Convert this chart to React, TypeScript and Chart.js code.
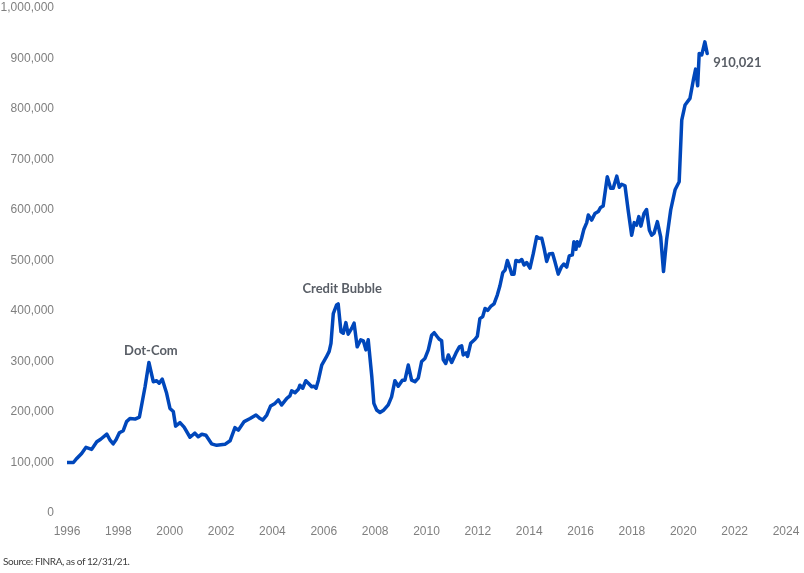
import React, { useEffect, useRef } from "react";
import { Chart, registerables } from "chart.js";

Chart.register(...registerables);

// Margin debt (debit balances in customers' securities margin accounts), USD millions
const periods: number[] = [
  1996.01, 1996.25, 1996.38, 1996.57, 1996.74, 1996.96, 1997.16, 1997.31, 1997.55, 1997.67,
  1997.8, 1997.91, 1998.04, 1998.19, 1998.32, 1998.45, 1998.65, 1998.82, 1999.04, 1999.19,
  1999.36, 1999.49, 1999.59, 1999.71, 1999.88, 2000.01, 2000.14, 2000.23, 2000.4, 2000.56,
  2000.79, 2000.98, 2001.11, 2001.25, 2001.41, 2001.63, 2001.83, 2002.15, 2002.35, 2002.54,
  2002.67, 2002.9, 2003.13, 2003.36, 2003.52, 2003.62, 2003.78, 2003.93, 2004.1, 2004.23,
  2004.36, 2004.56, 2004.68, 2004.75, 2004.88, 2005.01, 2005.07, 2005.18, 2005.3, 2005.4,
  2005.53, 2005.62, 2005.7, 2005.79, 2005.92, 2006.09, 2006.21, 2006.28, 2006.37, 2006.5,
  2006.56, 2006.67, 2006.76, 2006.86, 2006.95, 2007.09, 2007.18, 2007.3, 2007.44, 2007.54,
  2007.64, 2007.73, 2007.87, 2007.95, 2008.06, 2008.19, 2008.34, 2008.51, 2008.64, 2008.77,
  2008.9, 2009.06, 2009.16, 2009.29, 2009.42, 2009.55, 2009.68, 2009.81, 2009.94, 2010.07,
  2010.2, 2010.3, 2010.42, 2010.5, 2010.59, 2010.65, 2010.75, 2010.85, 2010.98, 2011.15,
  2011.28, 2011.37, 2011.43, 2011.54, 2011.6, 2011.72, 2011.89, 2011.98, 2012.08, 2012.19,
  2012.28, 2012.38, 2012.5, 2012.63, 2012.76, 2012.86, 2012.97, 2013.06, 2013.15, 2013.25,
  2013.32, 2013.41, 2013.48, 2013.61, 2013.71, 2013.8, 2013.9, 2014.03, 2014.16, 2014.29,
  2014.38, 2014.49, 2014.58, 2014.68, 2014.78, 2014.91, 2015.0, 2015.13, 2015.26, 2015.35,
  2015.46, 2015.56, 2015.68, 2015.74, 2015.82, 2015.87, 2015.95, 2016.04, 2016.13, 2016.24,
  2016.3, 2016.43, 2016.56, 2016.69, 2016.78, 2016.88, 2017.04, 2017.17, 2017.27, 2017.41,
  2017.51, 2017.6, 2017.73, 2017.86, 2017.99, 2018.09, 2018.18, 2018.27, 2018.35, 2018.47,
  2018.57, 2018.68, 2018.77, 2018.86, 2018.99, 2019.12, 2019.23, 2019.35, 2019.51, 2019.68,
  2019.84, 2019.94, 2020.07, 2020.26, 2020.39, 2020.48, 2020.56, 2020.62, 2020.72, 2020.84,
  2020.93,
];

const marginDebt: number[] = [
  100000, 100000, 108000, 118000, 130000, 126000, 141000, 146000, 156000, 145000,
  137000, 145000, 159000, 163000, 181000, 187000, 186000, 190000, 250000, 298000,
  260000, 262000, 257000, 265000, 237000, 207000, 201000, 172000, 179000, 170000,
  150000, 158000, 151000, 156000, 154000, 137000, 134000, 136000, 143000, 169000,
  164000, 181000, 187000, 194000, 187000, 184000, 194000, 212000, 217000, 224000,
  214000, 227000, 232000, 242000, 238000, 245000, 253000, 247000, 262000, 257000,
  250000, 251000, 247000, 263000, 293000, 308000, 320000, 336000, 395000, 412000,
  414000, 359000, 356000, 377000, 354000, 366000, 376000, 329000, 343000, 341000,
  323000, 343000, 270000, 217000, 204000, 199000, 204000, 214000, 230000, 262000,
  251000, 263000, 263000, 293000, 263000, 260000, 267000, 300000, 306000, 323000,
  352000, 357000, 349000, 344000, 341000, 304000, 296000, 313000, 298000, 317000,
  329000, 331000, 313000, 317000, 310000, 336000, 344000, 350000, 385000, 389000,
  405000, 401000, 409000, 414000, 432000, 450000, 476000, 481000, 500000, 485000,
  473000, 473000, 500000, 498000, 502000, 491000, 496000, 485000, 514000, 547000,
  544000, 544000, 524000, 498000, 513000, 514000, 498000, 473000, 488000, 493000,
  487000, 509000, 511000, 537000, 522000, 537000, 529000, 544000, 562000, 575000,
  590000, 580000, 593000, 597000, 605000, 608000, 666000, 643000, 643000, 667000,
  645000, 651000, 648000, 597000, 550000, 575000, 570000, 587000, 568000, 593000,
  601000, 560000, 550000, 554000, 577000, 547000, 478000, 541000, 600000, 640000,
  656000, 778000, 808000, 821000, 857000, 879000, 846000, 910000, 907000, 933000,
  910021,
];

const yTicks = { min: 0, max: 1000000, step: 100000 };
const xTicks = { min: 1996, max: 2024, step: 2 };

// Callouts anchored to a point of the series: [point index, text, dx, dy, align]
const callouts: Array<[number, string, number, number, CanvasTextAlign]> = [
  [19, "Dot-Com", 2, -12, "center"],
  [70, "Credit Bubble", 4, -15, "center"],
  [marginDebt.length - 1, marginDebt[marginDebt.length - 1].toLocaleString("en-US"), 6, 9, "left"],
];

const sourceNote = "Source: FINRA, as of 12/31/21.";

const calloutPlugin = {
  id: "callouts",
  afterDatasetsDraw(chart: any) {
    const { ctx, scales } = chart;
    ctx.save();
    ctx.font = "bold 13px Lato, 'Open Sans', sans-serif";
    ctx.fillStyle = "#595e66";
    ctx.textBaseline = "middle";
    for (const [i, text, dx, dy, align] of callouts) {
      const px = scales.x.getPixelForValue(periods[i]);
      const py = scales.y.getPixelForValue(marginDebt[i]);
      ctx.textAlign = align;
      ctx.fillText(text, px + dx, py + dy);
    }
    ctx.restore();
  },
};

export default function App() {
  const canvasRef = useRef<HTMLCanvasElement | null>(null);

  useEffect(() => {
    if (!canvasRef.current) return;
    const points = periods.map((p, i) => ({ x: p, y: marginDebt[i] }));
    const chart = new Chart(canvasRef.current, {
      type: "line",
      data: {
        datasets: [
          {
            label: "Margin debt",
            data: points,
            borderColor: "#0047bb",
            borderWidth: 3.5,
            pointRadius: 0,
            tension: 0,
            fill: false,
            borderJoinStyle: "round",
            borderCapStyle: "round",
          },
        ],
      },
      options: {
        animation: false,
        responsive: true,
        maintainAspectRatio: false,
        layout: { padding: 0 },
        plugins: { legend: { display: false }, tooltip: { enabled: false } },
        scales: {
          x: {
            type: "linear",
            min: xTicks.min,
            max: xTicks.max,
            grid: { display: false, drawTicks: false },
            border: { display: false },
            afterFit: (s: any) => {
              s.height = 60;
              s.paddingLeft = 0;
              s.paddingRight = 18;
            },
            ticks: {
              stepSize: xTicks.step,
              padding: 11,
              color: "#7f7f7f",
              font: { family: "'Liberation Sans', Arial, sans-serif", size: 12 },
              callback: (v: any) => String(v),
              maxRotation: 0,
            },
          },
          y: {
            min: yTicks.min,
            max: yTicks.max,
            grid: { display: false, drawTicks: false },
            border: { display: false },
            afterFit: (s: any) => {
              s.width = 67;
              s.paddingTop = 8;
              s.paddingBottom = 0;
            },
            ticks: {
              stepSize: yTicks.step,
              padding: 13,
              color: "#7f7f7f",
              font: { family: "'Liberation Sans', Arial, sans-serif", size: 12 },
              callback: (v: any) => Number(v).toLocaleString("en-US"),
            },
          },
        },
      },
      plugins: [calloutPlugin],
    });
    return () => chart.destroy();
  }, []);

  return (
    <div style={{ position: "fixed", left: 0, top: 0, width: 804, height: 573, background: "#fff" }}>
      <canvas ref={canvasRef} />
      <div
        style={{
          position: "absolute",
          left: 3,
          top: 555,
          font: "10px Lato, 'Open Sans', sans-serif",
          letterSpacing: "-0.4px",
          color: "#404040",
          whiteSpace: "nowrap",
        }}
      >
        {sourceNote}
      </div>
    </div>
  );
}
